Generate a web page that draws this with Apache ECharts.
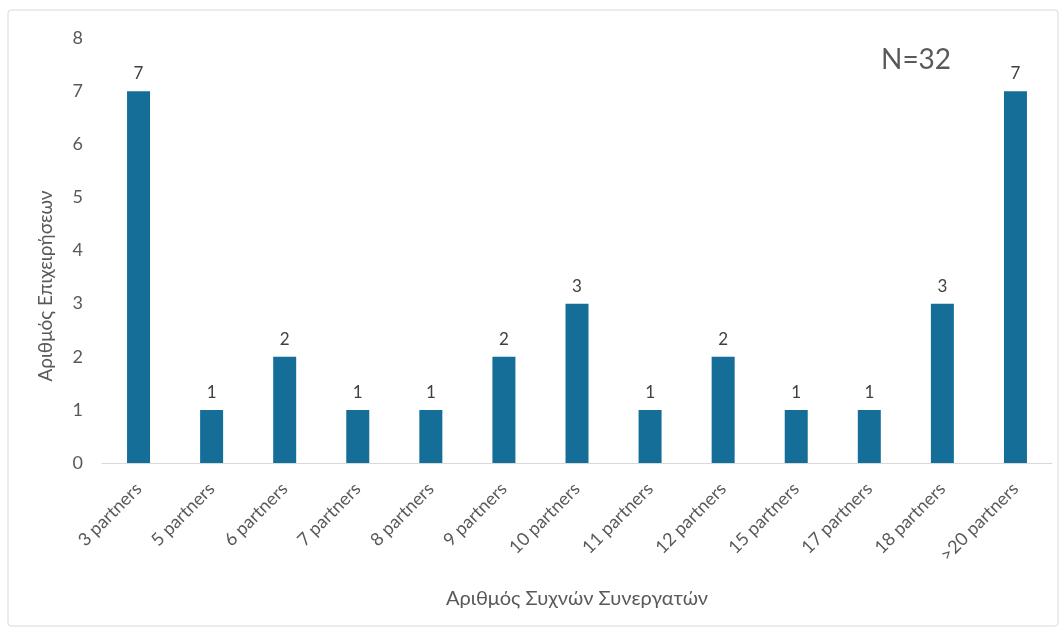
<!DOCTYPE html>
<html>
<head>
<meta charset="utf-8">
<script src="https://cdn.jsdelivr.net/npm/echarts@6/dist/echarts.min.js"></script>
<style>
  html, body { margin: 0; padding: 0; background: #fff; }
  #main { width: 1064px; height: 630px; }
</style>
</head>
<body>
<div id="main"></div>
<script>
// δεδομένα
var categories = ['3 partners', '5 partners', '6 partners', '7 partners', '8 partners', '9 partners',
    '10 partners', '11 partners', '12 partners', '15 partners', '17 partners', '18 partners', '>20 partners'];
var values = [7, 1, 2, 1, 1, 2, 3, 1, 2, 1, 1, 3, 7];
var yTicks = { min: 0, max: 8, interval: 1 };

var myChart = echarts.init(document.getElementById('main'));
var option = {
    backgroundColor: '#fff',
    textStyle: { fontFamily: 'Lato' },
    graphic: [{
        type: 'rect',
        shape: { x: 8, y: 10, width: 1050, height: 616, r: 3 },
        style: { fill: 'none', stroke: '#d9d9d9', lineWidth: 1 }
    }, {
        // όνομα άξονα y
        type: 'text',
        x: 46,
        y: 286,
        rotation: Math.PI / 2,
        style: {
            text: 'Αριθμός Επιχειρήσεων',
            fontSize: 19,
            fontFamily: 'Lato',
            fill: '#595959',
            align: 'center',
            verticalAlign: 'middle'
        }
    }],
    title: {
        text: 'N=32',
        left: 876,
        top: 41,
        textStyle: { fontSize: 28, fontWeight: 'normal', color: '#595959', fontFamily: 'Lato' }
    },
    grid: {
        left: 102,
        right: 12,
        top: 38,
        bottom: 167,
        containLabel: false
    },
    xAxis: {
        type: 'category',
        data: categories,
        name: 'Αριθμός Συχνών Συνεργατών',
        nameLocation: 'middle',
        nameGap: 126,
        nameTextStyle: { fontSize: 20, color: '#595959' },
        axisLine: { lineStyle: { color: '#d9d9d9', width: 1 } },
        axisTick: { show: false },
        axisLabel: {
            rotate: 45,
            interval: 0,
            fontSize: 18,
            color: '#595959',
            margin: 23
        }
    },
    yAxis: {
        type: 'value',
        min: yTicks.min,
        max: yTicks.max,
        interval: yTicks.interval,
        axisLine: { show: false },
        axisTick: { show: false },
        splitLine: { show: false },
        axisLabel: { fontSize: 18, color: '#595959', margin: 19 }
    },
    series: [{
        type: 'bar',
        data: values,
        barWidth: 23,
        itemStyle: { color: '#156e98' },
        label: {
            show: true,
            position: 'top',
            distance: 9,
            fontSize: 17,
            color: '#404040'
        }
    }]
};
myChart.setOption(option);
</script>
</body>
</html>
